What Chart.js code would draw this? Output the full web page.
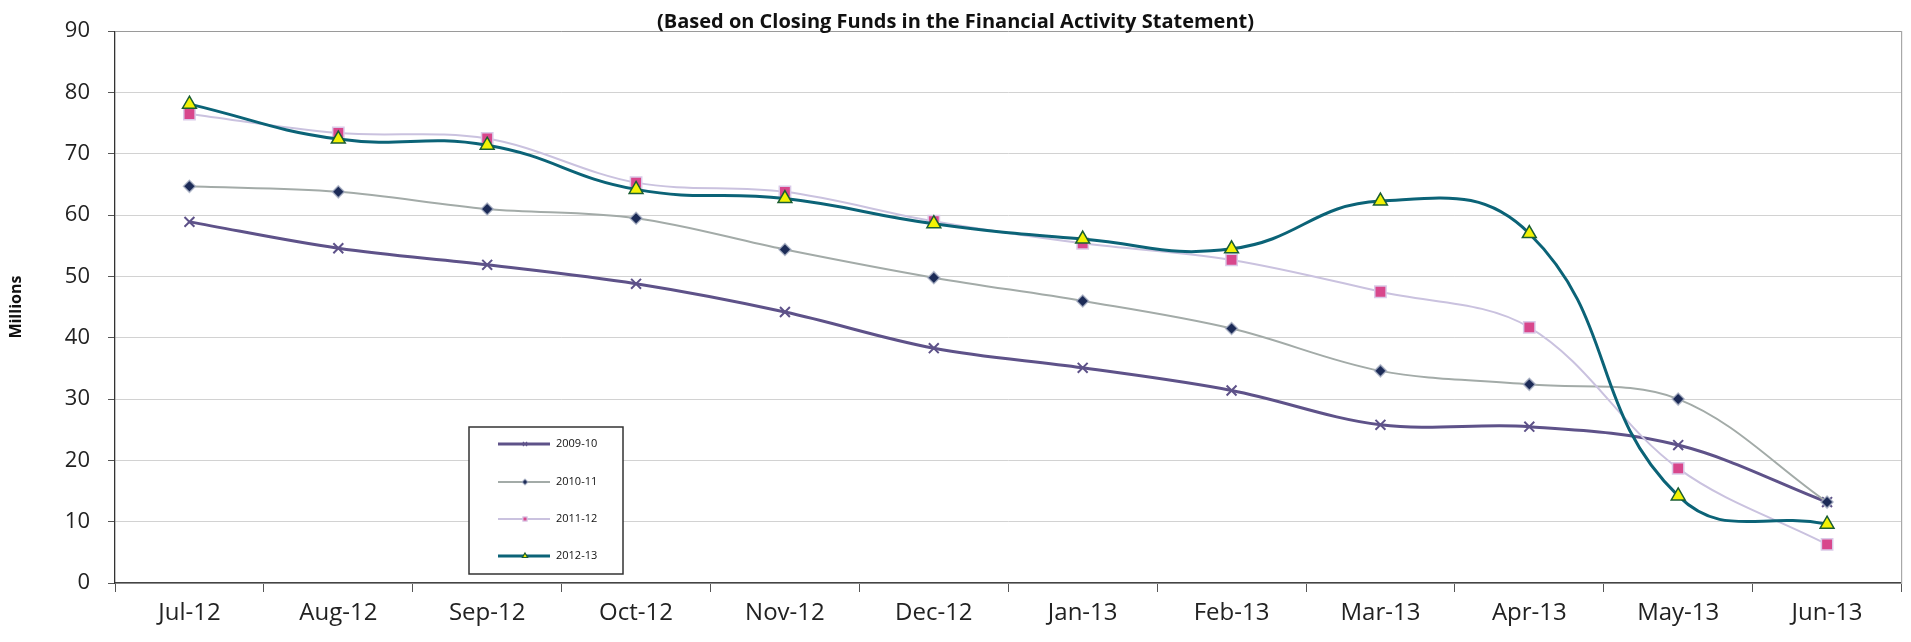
<!DOCTYPE html>
<html>
<head>
<meta charset="utf-8">
<script src="https://cdn.jsdelivr.net/npm/chart.js@4.4.1/dist/chart.umd.min.js"></script>
<style>
  html, body { margin: 0; padding: 0; background: #fff; }
  #wrap { position: relative; width: 1911px; height: 642px; }
</style>
</head>
<body>
<div id="wrap"><canvas id="fundsChart" width="1911" height="642"></canvas></div>
<script>
// Monthly closing funds, in millions
const months = ['Jul-12', 'Aug-12', 'Sep-12', 'Oct-12', 'Nov-12', 'Dec-12',
                'Jan-13', 'Feb-13', 'Mar-13', 'Apr-13', 'May-13', 'Jun-13'];
const funds0910 = [58.9, 54.6, 51.9, 48.8, 44.2, 38.3, 35.1, 31.4, 25.8, 25.5, 22.5, 13.2];
const funds1011 = [64.7, 63.8, 61.0, 59.5, 54.4, 49.8, 46.0, 41.5, 34.6, 32.4, 30.0, 13.2];
const funds1112 = [76.5, 73.4, 72.5, 65.3, 63.8, 59.0, 55.4, 52.7, 47.5, 41.7, 18.7, 6.3];
const funds1213 = [78.1, 72.4, 71.4, 64.2, 62.7, 58.6, 56.1, 54.5, 62.3, 57.0, 14.2, 9.6];
const yTicks = [0, 10, 20, 30, 40, 50, 60, 70, 80, 90];
const seriesNames = ['2009-10', '2010-11', '2011-12', '2012-13'];

const FONT = '"Open Sans", "DejaVu Sans", sans-serif';

// boxed legend sitting inside the plot, near the bottom
const boxLegend = {
  id: 'boxLegend',
  afterDraw(chart) {
    const { ctx, chartArea: ca } = chart;
    const x0 = ca.left + 354, y0 = ca.bottom - 156, w = 154, h = 147;
    const rows = [17, 55, 92, 129];
    ctx.save();
    ctx.fillStyle = '#fff';
    ctx.fillRect(x0, y0, w, h);
    ctx.strokeStyle = '#333';
    ctx.lineWidth = 1.5;
    ctx.strokeRect(x0, y0, w, h);
    chart.data.datasets.forEach((ds, i) => {
      const y = y0 + rows[i];
      ctx.strokeStyle = ds.borderColor;
      ctx.lineWidth = ds.borderWidth;
      ctx.beginPath();
      ctx.moveTo(x0 + 29, y);
      ctx.lineTo(x0 + 81, y);
      ctx.stroke();
      if (Chart.helpers && Chart.helpers.drawPoint) {
        ctx.fillStyle = ds.pointBackgroundColor;
        ctx.strokeStyle = ds.pointBorderColor;
        ctx.lineWidth = 1.2;
        Chart.helpers.drawPoint(ctx, { pointStyle: ds.pointStyle, radius: 3, borderWidth: 1.2, rotation: 0 }, x0 + 56, y);
      }
      ctx.fillStyle = '#111';
      ctx.font = '11px ' + FONT;
      ctx.textBaseline = 'middle';
      ctx.textAlign = 'left';
      ctx.fillText(ds.label, x0 + 87, y);
    });
    ctx.restore();
  }
};

new Chart(document.getElementById('fundsChart'), {
  type: 'line',
  data: {
    labels: months,
    datasets: [
      {
        label: seriesNames[0], data: funds0910, order: 3,
        borderColor: '#5e5289', borderWidth: 3,
        pointStyle: 'crossRot', pointRadius: 7,
        pointBackgroundColor: '#5e5289', pointBorderColor: '#5e5289', pointBorderWidth: 2
      },
      {
        label: seriesNames[1], data: funds1011, order: 2,
        borderColor: '#a3aba8', borderWidth: 2,
        pointStyle: 'rectRot', pointRadius: 6,
        pointBackgroundColor: '#1c2b57', pointBorderColor: 'rgba(170,178,196,0.8)', pointBorderWidth: 1.5
      },
      {
        label: seriesNames[2], data: funds1112, order: 1,
        borderColor: '#cac2df', borderWidth: 2,
        pointStyle: 'rect', pointRadius: 8,
        pointBackgroundColor: '#d8478c', pointBorderColor: '#dacae8', pointBorderWidth: 1.5
      },
      {
        label: seriesNames[3], data: funds1213, order: 0,
        borderColor: '#0b6377', borderWidth: 3, tension: 0.45,
        pointStyle: 'triangle', pointRadius: 8,
        pointBackgroundColor: '#f2f205', pointBorderColor: '#1b5e32', pointBorderWidth: 1.5
      }
    ]
  },
  options: {
    responsive: false,
    animation: false,
    layout: { padding: 0 },
    elements: { line: { tension: 0.35, fill: false } },
    plugins: {
      legend: { display: false },
      tooltip: { enabled: false },
      title: {
        display: true,
        text: '(Based on Closing Funds in the Financial Activity Statement)',
        color: '#111',
        font: { family: FONT, size: 20, weight: 'bold', lineHeight: 0.85 },
        padding: { top: 0, bottom: 0 }
      }
    },
    scales: {
      x: {
        offset: true,
        grid: { offset: true, drawOnChartArea: false, drawTicks: true, tickLength: 9, tickColor: '#555' },
        border: { color: '#444', width: 1.5 },
        ticks: { color: '#222', font: { family: FONT, size: 24 }, padding: 7, maxRotation: 0, autoSkip: false },
        afterFit(scale) { scale.height = 59; }
      },
      y: {
        min: 0, max: 90,
        afterBuildTicks(scale) { scale.ticks = yTicks.map(v => ({ value: v })); },
        grid: {
          color: ctx => (ctx.tick && ctx.tick.value === 90 ? '#9a9a9a' : '#d2d2d2'),
          lineWidth: 1, tickLength: 7, tickColor: '#555'
        },
        border: { color: '#333', width: 1.3 },
        ticks: { color: '#222', font: { family: FONT, size: 22 }, padding: 18 },
        title: {
          display: true, text: 'Millions', color: '#111',
          font: { family: FONT, size: 16, weight: 'bold' },
          padding: { top: 7, bottom: 0 }
        },
        afterFit(scale) { scale.width = 115; }
      },
      yRight: {
        position: 'right',
        grid: { drawOnChartArea: false, drawTicks: false },
        border: { color: '#a8a8a8', width: 1.2 },
        ticks: { display: false },
        afterFit(scale) { scale.width = 5; }
      }
    }
  },
  plugins: [boxLegend]
});
</script>
</body>
</html>
